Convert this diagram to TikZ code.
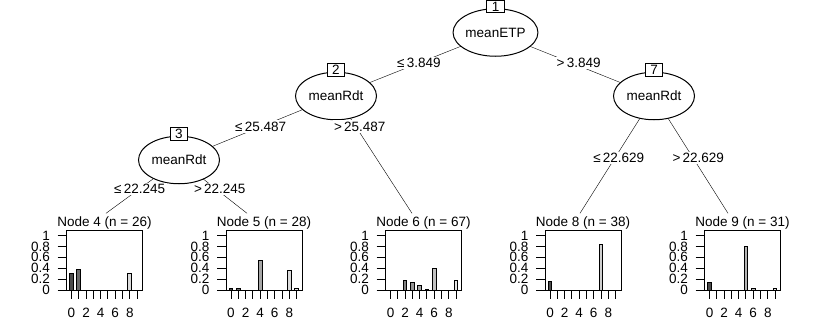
\documentclass[tikz,border=0pt]{standalone}
\usepackage{fontspec}
\setmainfont{Liberation Sans}
\usetikzlibrary{shapes.geometric, positioning, backgrounds}

\definecolor{lev0}{gray}{0.30}
\definecolor{lev1}{gray}{0.42}
\definecolor{lev2}{gray}{0.51}
\definecolor{lev3}{gray}{0.59}
\definecolor{lev4}{gray}{0.65}
\definecolor{lev5}{gray}{0.71}
\definecolor{lev6}{gray}{0.76}
\definecolor{lev7}{gray}{0.81}
\definecolor{lev8}{gray}{0.86}
\definecolor{lev9}{gray}{0.90}

% terminal node: #1 left edge of plot box, #2 node number, #3 n, #4 bars class/count
\newcommand{\termnode}[4]{%
  \node[termtitle] (t#2) at (#1+38,223.3) {Node #2 (n = #3)};
  \draw (#1,230.7) rectangle (#1+76,290);
  \foreach \v [count=\c] in {0,0.2,0.4,0.6,0.8,1} {
    \draw (#1-9,290-54.5*\v) -- (#1,290-54.5*\v);
    \node[ticklab, anchor=east] (t#2y\c) at (#1-16,290-54.5*\v) {\v};
  }
  \foreach \i in {0,...,9}
    \draw (#1+5+7.29*\i,290) -- ++(0,9);
  \foreach \i in {0,2,4,6,8}
    \node[ticklab] (t#2x\i) at (#1+5+7.29*\i,312.7) {\i};
  \foreach \i/\k in {#4}
    \filldraw[fill=lev\i] (#1+3.15+7.29*\i,290) rectangle ++(3.7,{-54.5*\k/#3});
}

\begin{document}
\begin{tikzpicture}[x=1pt, y=-1pt, line width=1pt,
    font=\fontsize{13.5pt}{16pt}\selectfont,
    split/.style={draw, ellipse, fill=white, minimum width=81pt, minimum height=47.5pt, inner sep=0pt},
    idbox/.style={draw, fill=white, minimum width=17.6pt, minimum height=12.4pt, inner sep=0pt},
    lbl/.style={fill=white, inner sep=1.5pt},
    termtitle/.style={inner sep=0pt},
    ticklab/.style={inner sep=0pt}]
    \useasboundingbox (0,0) rectangle (830,332);

    % inner nodes
    \node[split] (n1) at (495.5,32.5) {meanETP};
    \node[split] (n2) at (336,96) {meanRdt};
    \node[split] (n3) at (179,160) {meanRdt};
    \node[split] (n7) at (654,96) {meanRdt};
    \node[idbox] (id1) at ([yshift=26pt]n1.center) {1};
    \node[idbox] (id2) at ([yshift=26pt]n2.center) {2};
    \node[idbox] (id3) at ([yshift=26pt]n3.center) {3};
    \node[idbox] (id7) at ([yshift=26pt]n7.center) {7};

    % tops of the terminal panels
    \coordinate (e4) at (106,213.3);
    \coordinate (e5) at (247,213.3);
    \coordinate (e6) at (412,213.3);
    \coordinate (e8) at (580,213.3);
    \coordinate (e9) at (728,213.3);

    \begin{scope}[on background layer]
    \draw (n1.center) -- (n2.center);
    \draw (n1.center) -- (n7.center);
    \draw (n2.center) -- (n3.center);
    \draw (n2.center) -- (e6);
    \draw (n3.center) -- (e4);
    \draw (n3.center) -- (e5);
    \draw (n7.center) -- (e8);
    \draw (n7.center) -- (e9);
    \end{scope}

    \path (n1.center) -- node[lbl, pos=0.48] (s12) {≤\,3.849} (n2.center);
    \path (n1.center) -- node[lbl, pos=0.48, xshift=7pt] (s17) {>\,3.849} (n7.center);
    \path (n2.center) -- node[lbl, pos=0.48] (s23) {≤\,25.487} (n3.center);
    \path (n2.center) -- node[lbl, pos=0.26, xshift=4pt] (s26) {>\,25.487} (e6);
    \path (n3.center) -- node[lbl, pos=0.54] (s34) {≤\,22.245} (e4);
    \path (n3.center) -- node[lbl, pos=0.54, xshift=4pt] (s35) {>\,22.245} (e5);
    \path (n7.center) -- node[lbl, pos=0.53, xshift=4pt] (s78) {≤\,22.629} (e8);
    \path (n7.center) -- node[lbl, pos=0.53, xshift=5pt] (s79) {>\,22.629} (e9);

    % terminal nodes
    \termnode{66.5}{4}{26}{0/8, 1/10, 8/8}
    \termnode{226}{5}{28}{0/1, 1/1, 4/15, 8/10, 9/1}
    \termnode{385.5}{6}{67}{2/12, 3/9, 4/6, 5/1, 6/27, 9/12}
    \termnode{545}{8}{38}{0/6, 7/32}
    \termnode{704.5}{9}{31}{0/4, 5/25, 6/1, 9/1}
\end{tikzpicture}
\end{document}
